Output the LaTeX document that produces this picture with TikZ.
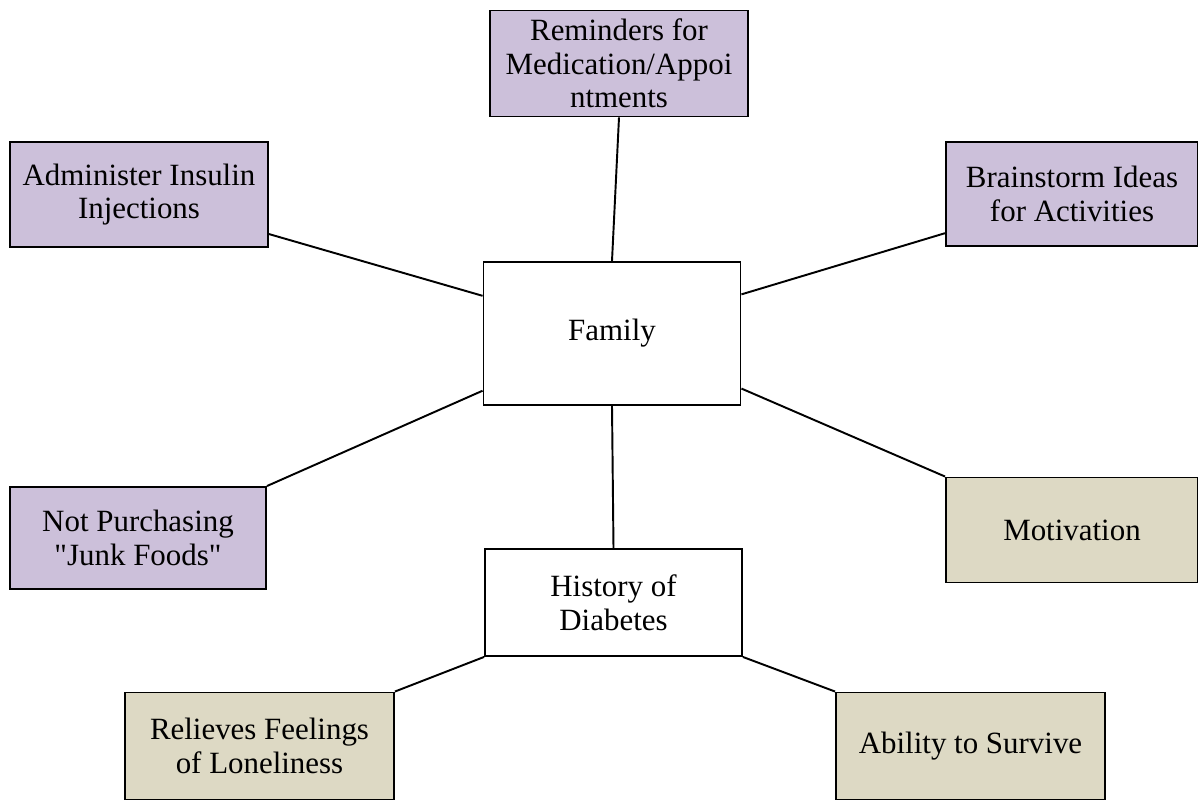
\documentclass[tikz,border=0pt]{standalone}
\usepackage{fontspec}
\setmainfont{Liberation Serif}
\usetikzlibrary{calc}
\definecolor{lavender}{HTML}{CCC0DA}
\definecolor{tanfill}{HTML}{DDD9C4}
\begin{document}
\begin{tikzpicture}[x=0.02cm,y=-0.02cm,
  box/.style={draw=black,line width=1.1pt,rectangle,inner sep=0pt,align=center,
    font=\fontsize{17.6}{19.2}\selectfont},
  purp/.style={box,fill=lavender},
  tanbox/.style={box,fill=tanfill},
  plain/.style={box,fill=white},
  link/.style={line width=1.1pt,black}]
\useasboundingbox (0,0) rectangle (1198,800);
% nodes (centres in px, sizes in cm = px*0.02)
\node[purp,minimum width=5.16cm,minimum height=2.12cm] (rem) at (619,63.5) {Reminders for\\Medication/Appoi\\ntments};
\node[purp,minimum width=5.16cm,minimum height=2.10cm] (adm) at (139,194.5) {Administer Insulin\\Injections};
\node[purp,minimum width=5.04cm,minimum height=2.08cm] (brn) at (1072,194) {Brainstorm Ideas\\for Activities};
\node[plain,minimum width=5.14cm,minimum height=2.86cm] (fam) at (612,333.5) {Family};
\node[purp,minimum width=5.12cm,minimum height=2.04cm] (npf) at (138,538) {Not Purchasing\\\textquotedbl Junk Foods\textquotedbl};
\node[tanbox,minimum width=5.04cm,minimum height=2.10cm] (mot) at (1072,530) {Motivation};
\node[plain,minimum width=5.14cm,minimum height=2.14cm] (his) at (613.5,602.5) {History of\\Diabetes};
\node[tanbox,minimum width=5.38cm,minimum height=2.14cm] (rel) at (259.5,746) {Relieves Feelings\\of Loneliness};
\node[tanbox,minimum width=5.38cm,minimum height=2.14cm] (abl) at (970.5,746) {Ability to Survive};
% connectors
\draw[link] (rem.south) -- (fam.north);
\draw[link] ($(adm.north east)!0.87!(adm.south east)$) -- ($(fam.north west)!0.24!(fam.south west)$);
\draw[link] ($(brn.north west)!0.87!(brn.south west)$) -- ($(fam.north east)!0.23!(fam.south east)$);
\draw[link] (npf.north east) -- ($(fam.north west)!0.895!(fam.south west)$);
\draw[link] (mot.north west) -- ($(fam.north east)!0.88!(fam.south east)$);
\draw[link] (fam.south) -- (his.north);
\draw[link] (his.south west) -- (rel.north east);
\draw[link] (his.south east) -- (abl.north west);
\end{tikzpicture}
\end{document}
